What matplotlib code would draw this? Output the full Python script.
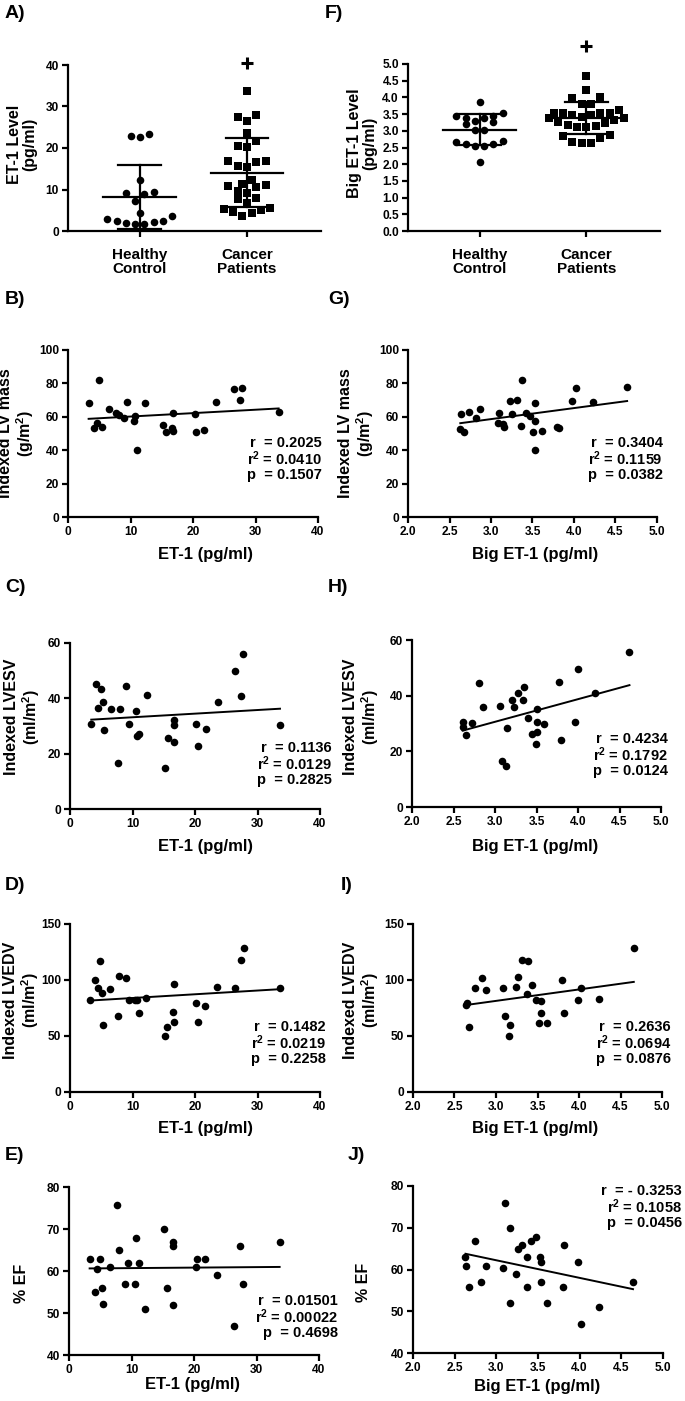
import numpy as np
import matplotlib
matplotlib.use("Agg")
import matplotlib.pyplot as plt
from matplotlib.ticker import FormatStrFormatter

plt.rcParams.update({
    "font.family": ["Liberation Sans", "DejaVu Sans"],
    "font.weight": "bold",
    "axes.labelweight": "bold",
    "mathtext.fontset": "custom",
    "mathtext.rm": "Liberation Sans:bold",
    "mathtext.it": "Liberation Sans:bold",
    "mathtext.bf": "Liberation Sans:bold",
})

# ---------------- data ----------------
groups = ["Healthy\nControl", "Cancer\nPatients"]

hc_et1 = [23.4, 22.7, 22.8, 12.3, 9.1, 7.2, 8.9, 9.3, 4.3, 2.9, 2.2, 1.9, 1.8, 1.8, 2.3, 2.5, 3.6]
cp_et1 = [33.7, 27.5, 26.4, 27.9, 23.5, 21.8, 20.5, 20.2, 16.8, 16.7, 15.4, 15.6, 16.8, 12.3, 10.8,
          11.3, 11.2, 9.6, 9.1, 10.5, 7.6, 6.7, 8.0, 5.2, 4.5, 3.5, 4.3, 5.1, 5.5]

hc_big = [3.87, 3.44, 3.44, 3.38, 3.38, 3.53, 3.21, 3.28, 3.25, 3.01, 3.01, 2.69, 2.61, 2.53, 2.53,
          2.61, 2.67, 2.06]
cp_big = [4.63, 4.23, 4.01, 3.97, 3.80, 3.80, 3.61, 3.53, 3.53, 3.48, 3.48, 3.53, 3.53, 3.37, 3.25,
          3.17, 3.11, 3.11, 3.15, 3.23, 3.31, 3.37, 2.83, 2.67, 2.63, 2.63, 2.77, 2.87, 3.40]

sig_et1 = 40.6
sig_big = 5.53

# B: ET-1 vs indexed LV mass
b_x = [3.3, 4.9, 4.1, 4.6, 5.4, 6.6, 7.7, 8.1, 9.0, 9.5, 10.7, 10.5, 11.1, 12.3, 15.2, 15.6, 16.7, 16.8,
       16.8, 20.3, 20.5, 21.8, 23.6, 26.5, 27.5, 27.9, 33.7]
b_y = [68.5, 81.8, 53.3, 56, 54, 64.7, 62, 61, 59, 69, 60.5, 57.7, 40, 68.5, 55, 50.7, 53, 51.3,
       62, 61.7, 50.7, 52.3, 69, 76.6, 70, 77.5, 63]
b_stats = ["r  = 0.2025", "r$^2$ = 0.0410", "p  = 0.1507"]

# C: ET-1 vs indexed LVESV
c_x = [3.4, 4.2, 4.4, 4.9, 5.2, 5.5, 6.6, 7.6, 8.0, 9.0, 9.5, 10.5, 10.7, 11.1, 12.3, 15.2, 15.6, 16.6,
       16.7, 16.7, 20.2, 20.5, 21.7, 23.6, 26.4, 27.4, 27.7, 33.6]
c_y = [30.7, 45.1, 36.6, 43.4, 38.8, 28.5, 36.3, 16.7, 36.3, 44.6, 30.7, 35.3, 26.5, 27.1, 41.1, 14.9,
       25.8, 24.2, 32.0, 30.2, 30.8, 22.9, 28.9, 38.7, 49.9, 41.0, 55.9, 30.5]
c_stats = ["r  = 0.1136", "r$^2$ = 0.0129", "p  = 0.2825"]

# D: ET-1 vs indexed LVEDV
d_x = [3.2, 4.0, 4.4, 4.8, 5.1, 5.3, 6.4, 7.6, 7.9, 8.9, 9.4, 10.4, 10.7, 11.1, 12.2, 15.2, 15.5, 16.5,
       16.6, 16.6, 20.2, 20.5, 21.6, 23.5, 26.4, 27.4, 27.8, 33.6]
d_y = [81.9, 99.8, 92.6, 117.1, 88.1, 59.5, 91.7, 67.8, 103.4, 101.9, 81.9, 81.9, 82.2, 70.2, 84.0,
       50.0, 58.0, 71.4, 62.5, 96.4, 79.5, 62.5, 77.0, 93.8, 92.9, 117.9, 128.6, 92.9]
d_stats = ["r  = 0.1482", "r$^2$ = 0.0219", "p  = 0.2258"]

# E: ET-1 vs % EF
e_x = [3.3, 4.1, 4.5, 4.9, 5.2, 5.4, 6.5, 7.7, 8.0, 9.0, 9.4, 10.5, 10.7, 11.2, 12.2, 15.2, 15.7, 16.6,
       16.7, 16.7, 20.3, 20.5, 21.7, 23.6, 26.4, 27.4, 27.8, 33.7]
e_y = [62.9, 54.9, 60.4, 62.9, 55.9, 52.2, 61.0, 75.8, 64.9, 56.9, 62.0, 56.9, 67.9, 62.0, 51.0, 69.9,
       55.9, 65.9, 66.9, 52.0, 60.9, 62.9, 62.9, 59.0, 47.0, 65.9, 57.0, 66.9]
e_stats = ["r  = 0.01501", "r$^2$ = 0.00022", "p  = 0.4698"]

# G: Big ET-1 vs indexed LV mass
g_x = [2.64, 2.63, 2.67, 2.74, 2.82, 2.87, 3.08, 3.10, 3.14, 3.16, 3.23, 3.25, 3.31, 3.36, 3.37, 3.42,
       3.47, 3.51, 3.53, 3.53, 3.53, 3.61, 3.80, 3.82, 3.98, 4.02, 4.23, 4.64]
g_y = [61.7, 52.9, 50.9, 63.1, 59.5, 64.9, 56.1, 62.1, 55.7, 54.1, 69.5, 61.7, 70.1, 54.7, 82.0, 62.1,
       60.5, 50.7, 68.5, 57.7, 39.9, 51.7, 53.7, 53.3, 69.3, 77.0, 68.9, 78.0]
g_stats = ["r  = 0.3404", "r$^2$ = 0.1159", "p  = 0.0382"]

# H: Big ET-1 vs indexed LVESV
h_x = [2.61, 2.61, 2.65, 2.72, 2.81, 2.85, 3.06, 3.08, 3.13, 3.14, 3.21, 3.23, 3.28, 3.34, 3.35, 3.40,
       3.45, 3.49, 3.51, 3.51, 3.51, 3.59, 3.77, 3.79, 3.96, 4.00, 4.21, 4.62]
h_y = [30.6, 28.6, 25.7, 30.1, 44.4, 36.1, 36.4, 16.6, 14.8, 28.3, 38.5, 36.0, 40.8, 38.6, 43.2, 31.8,
       26.2, 22.6, 35.2, 30.6, 26.8, 29.9, 44.9, 24.1, 30.4, 49.7, 40.9, 55.6]
h_stats = ["r  = 0.4234", "r$^2$ = 0.1792", "p  = 0.0124"]

# I: Big ET-1 vs indexed LVEDV
i_x = [2.64, 2.65, 2.68, 2.75, 2.83, 2.88, 3.09, 3.11, 3.17, 3.16, 3.24, 3.26, 3.31, 3.38, 3.37, 3.43,
       3.48, 3.54, 3.54, 3.52, 3.62, 3.80, 3.82, 3.99, 4.03, 4.24, 4.66]
i_y = [77.4, 79.2, 58.3, 93.2, 101.6, 91.4, 92.6, 67.8, 59.5, 49.9, 94.1, 103.1, 118.3, 116.8, 87.8,
       95.6, 81.9, 81.6, 70.2, 61.8, 61.8, 99.8, 70.2, 82.2, 92.9, 83.4, 128.2]
i_stats = ["r  = 0.2636", "r$^2$ = 0.0694", "p  = 0.0876"]

# J: Big ET-1 vs % EF
j_x = [2.63, 2.64, 2.67, 2.74, 2.82, 2.87, 3.08, 3.10, 3.16, 3.16, 3.24, 3.26, 3.31, 3.37, 3.37, 3.42,
       3.48, 3.52, 3.53, 3.54, 3.61, 3.80, 3.81, 3.98, 4.01, 4.23, 4.64]
j_y = [62.9, 60.9, 55.9, 66.9, 56.9, 60.9, 60.3, 75.9, 69.9, 51.9, 58.9, 64.9, 65.8, 55.9, 62.9, 66.9,
       67.9, 62.9, 61.9, 56.9, 51.9, 55.9, 65.8, 61.9, 46.9, 50.9, 56.9]
j_stats = ["r  = - 0.3253", "r$^2$ = 0.1058", "p  = 0.0456"]

# ---------------- layout helpers ----------------
W, H = 685, 1401
fig = plt.figure(figsize=(W / 100, H / 100), dpi=100)

LW = 1.6
TICK_FS = 8.6


def add_ax(l, t, r, b):
    return fig.add_axes([l / W, 1 - b / H, (r - l) / W, (b - t) / H])


def ftext(x, y, s, **kw):
    fig.text(x / W, 1 - y / H, s, **kw)


def base_style(ax):
    ax.spines[["top", "right"]].set_visible(False)
    for sp in ["left", "bottom"]:
        ax.spines[sp].set_linewidth(LW)
    ax.tick_params(width=LW, length=4, labelsize=TICK_FS, pad=2.5)
    ax.patch.set_alpha(0)


def row_offsets(vals, ypx, xpx, row_h, spacing):
    """Prism-like column scatter: values grouped in rows, spread side by side."""
    vals = np.asarray(vals, float)
    order = np.argsort(vals)
    xs = np.zeros(len(vals))
    rows, cur, start = [], [], None
    for i in order:
        if cur and (vals[i] - start) * ypx > row_h:
            rows.append(cur)
            cur = []
        if not cur:
            start = vals[i]
        cur.append(i)
    if cur:
        rows.append(cur)
    for row in rows:
        n = len(row)
        slots = [(k - (n - 1) / 2) for k in range(n)]
        slots = sorted(slots, key=lambda s: (abs(s), s))
        for idx, s in zip(row, slots):
            xs[idx] = s * spacing / xpx
    return xs


def dot_panel(box, hc, cp, ylim, yticks, fmt, ylabel, ylab_x, sig):
    l, t, r, b = box
    ax = add_ax(*box)
    base_style(ax)
    xlim = (-0.67, 1.69)
    ax.set_xlim(xlim)
    ax.set_ylim(ylim)
    xpx = (r - l) / (xlim[1] - xlim[0])
    ypx = (b - t) / (ylim[1] - ylim[0])
    for k, (vals, mk) in enumerate([(hc, "o"), (cp, "s")]):
        off = row_offsets(vals, ypx, xpx, 9.0, 9.3)
        ax.scatter(k + off, vals, marker=mk, s=30 if mk == "o" else 28, c="black",
                   linewidths=0, zorder=3, clip_on=False)
        m = np.mean(vals)
        sd = np.std(vals, ddof=1)
        ax.plot([k - 0.34, k + 0.34], [m, m], color="black", lw=LW, zorder=4)
        ax.plot([k, k], [m - sd, m + sd], color="black", lw=LW, zorder=4)
        for yy in (m - sd, m + sd):
            ax.plot([k - 0.2, k + 0.2], [yy, yy], color="black", lw=LW, zorder=4)
    ax.plot([1], [sig], marker="+", ms=8, mew=2.2, color="black", clip_on=False)
    ax.set_xticks([0, 1])
    ax.set_xticklabels(groups, fontsize=11, linespacing=1.05)
    ax.tick_params(axis="x", pad=8)
    ax.set_yticks(yticks)
    ax.yaxis.set_major_formatter(FormatStrFormatter(fmt))
    ftext(ylab_x, (t + b) / 2 - 4, ylabel, rotation=90, ha="center", va="center",
          fontsize=11.5, linespacing=1.05)
    return ax


def scatter_panel(box, x, y, xlim, xticks, xfmt, ylim, yticks, ylabel, ylab_pos,
                  xlabel, xlab_pos, stats, stats_pos):
    ax = add_ax(*box)
    base_style(ax)
    ax.set_xlim(xlim)
    ax.set_ylim(ylim)
    ax.set_xticks(xticks)
    ax.set_yticks(yticks)
    ax.xaxis.set_major_formatter(FormatStrFormatter(xfmt))
    ax.scatter(x, y, s=30, c="black", linewidths=0, zorder=3, clip_on=False)
    xa = np.asarray(x, float)
    ya = np.asarray(y, float)
    slope, inter = np.polyfit(xa, ya, 1)
    xs = np.array([xa.min(), xa.max()])
    ax.plot(xs, slope * xs + inter, color="black", lw=1.4, zorder=2)
    ftext(ylab_pos[0], ylab_pos[1], ylabel, rotation=90, ha="center", va="center",
          fontsize=11.5, linespacing=1.05)
    ftext(xlab_pos[0], xlab_pos[1], xlabel, ha="center", va="center", fontsize=12)
    sx, sy = stats_pos
    for k, s in enumerate(stats):
        ftext(sx, sy + 16 * (k - 1), s, ha="right", va="center", fontsize=10.5)
    return ax


# ---------------- panels ----------------
dot_panel((68, 65, 321, 231), hc_et1, cp_et1, (0, 40), [0, 10, 20, 30, 40], "%d",
          "ET-1 Level\n(pg/ml)", 22, sig_et1)
dot_panel((408, 64, 660, 231), hc_big, cp_big, (0, 5), np.arange(0, 5.01, 0.5), "%.1f",
          "Big ET-1 Level\n(pg/ml)", 362, sig_big)

et_ticks = [0, 10, 20, 30, 40]
big_ticks = np.arange(2.0, 5.01, 0.5)

scatter_panel((68, 350, 318, 517), b_x, b_y, (0, 40), et_ticks, "%d", (0, 100), range(0, 101, 20),
              "Indexed LV mass\n(g/m$^2$)", (17, 433), "ET-1 (pg/ml)", (205, 555), b_stats, (322, 459))
scatter_panel((408, 350, 657, 517), g_x, g_y, (2, 5), big_ticks, "%.1f", (0, 100), range(0, 101, 20),
              "Indexed LV mass\n(g/m$^2$)", (357, 433), "Big ET-1 (pg/ml)", (535, 555), g_stats, (663, 459))
scatter_panel((70, 643, 320, 809), c_x, c_y, (0, 40), et_ticks, "%d", (0, 60), range(0, 61, 20),
              "Indexed LVESV\n(ml/m$^2$)", (23, 717), "ET-1 (pg/ml)", (205, 846), c_stats, (332, 764))
scatter_panel((412, 640, 661, 807), h_x, h_y, (2, 5), big_ticks, "%.1f", (0, 60), range(0, 61, 20),
              "Indexed LVESV\n(ml/m$^2$)", (362, 717), "Big ET-1 (pg/ml)", (535, 846), h_stats, (668, 755))
scatter_panel((70, 924, 320, 1092), d_x, d_y, (0, 40), et_ticks, "%d", (0, 150), range(0, 151, 50),
              "Indexed LVEDV\n(ml/m$^2$)", (22, 1000), "ET-1 (pg/ml)", (205, 1128), d_stats, (326, 1043))
scatter_panel((413, 924, 662, 1092), i_x, i_y, (2, 5), big_ticks, "%.1f", (0, 150), range(0, 151, 50),
              "Indexed LVEDV\n(ml/m$^2$)", (362, 1000), "Big ET-1 (pg/ml)", (535, 1128), i_stats, (671, 1043))
scatter_panel((69, 1187, 319, 1355), e_x, e_y, (0, 40), et_ticks, "%d", (40, 80), range(40, 81, 10),
              "% EF", (22, 1283), "ET-1 (pg/ml)", (192, 1385), e_stats, (338, 1317))
scatter_panel((413, 1186, 663, 1353), j_x, j_y, (2, 5), big_ticks, "%.1f", (40, 80), range(40, 81, 10),
              "% EF", (364, 1282), "Big ET-1 (pg/ml)", (537, 1387), j_stats, (682, 1207))

# panel letters
for s, x, y in [("A)", 5, 14), ("F)", 325, 14), ("B)", 5, 300), ("G)", 328, 300),
                ("C)", 5, 587), ("H)", 328, 587), ("D)", 5, 886), ("I)", 341, 886),
                ("E)", 5, 1156), ("J)", 348, 1156)]:
    ftext(x, y, s, ha="left", va="center", fontsize=14)

fig.savefig("out.png", dpi=100)
